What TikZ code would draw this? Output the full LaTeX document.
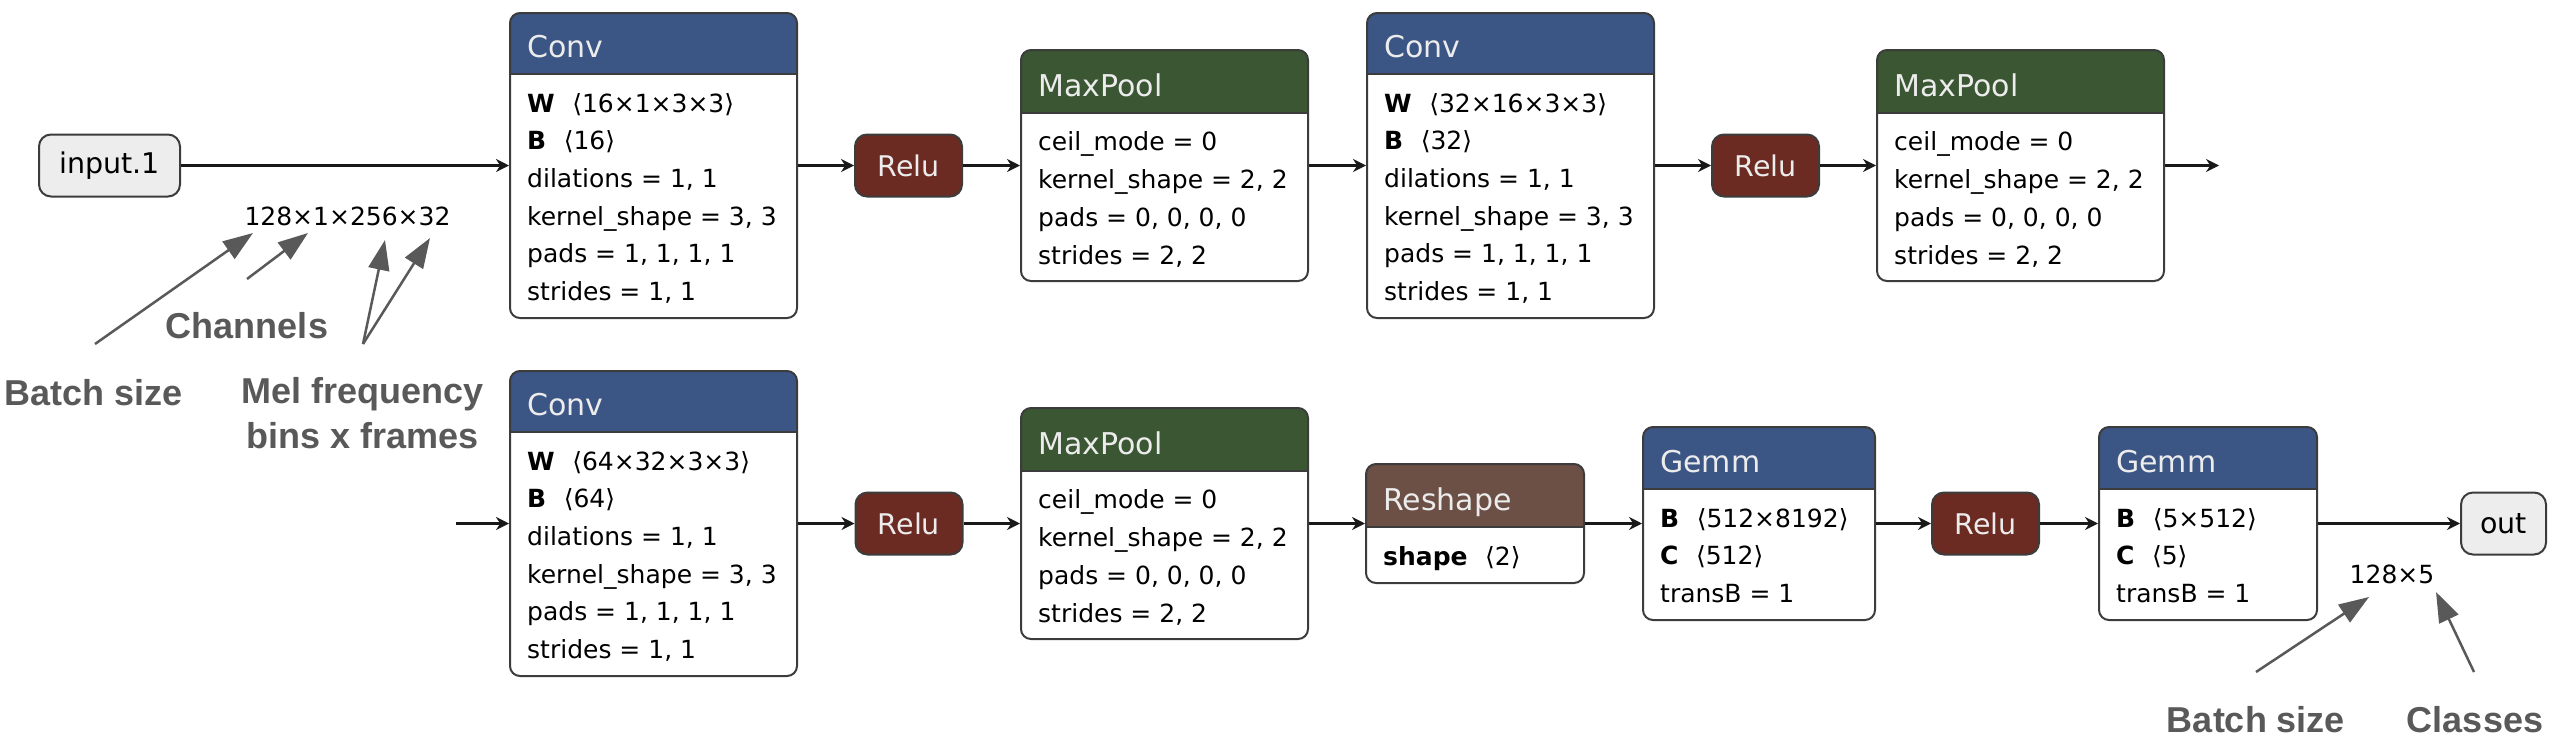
\documentclass[tikz,border=0pt]{standalone}
\usepackage{fontspec}
\setmainfont{DejaVu Sans}
\newfontfamily\notefont{Liberation Sans}
\usetikzlibrary{arrows.meta,fit}

\definecolor{convblue}{RGB}{59,85,133}
\definecolor{poolgreen}{RGB}{58,86,51}
\definecolor{relured}{RGB}{107,43,35}
\definecolor{shapebrown}{RGB}{108,79,69}
\definecolor{edgegray}{RGB}{60,60,60}
\definecolor{notegray}{RGB}{89,89,89}
\definecolor{headtext}{RGB}{236,236,236}

\begin{document}
\begin{tikzpicture}[x=1pt,y=-1pt,
  box/.style={draw=edgegray,line width=2pt,rounded corners=10pt,inner sep=0pt},
  head/.style={anchor=base west,inner sep=0pt,text=headtext,font=\fontsize{30}{36}\selectfont},
  body/.style={anchor=base west,inner sep=0pt,align=left,font=\fontsize{25}{37.7}\selectfont},
  pill/.style={draw=edgegray,line width=2pt,rounded corners=12pt,minimum height=62pt,inner sep=0pt,font=\fontsize{28.5}{34}\selectfont},
  relu/.style={pill,fill=relured,text=headtext,minimum width=107pt},
  io/.style={pill,fill=black!7},
  flow/.style={-{Stealth[length=13pt,width=13pt]},line width=2.5pt,black!90},
  dims/.style={anchor=base,inner sep=0pt,font=\fontsize{25}{30}\selectfont},
  note/.style={anchor=base,inner sep=0pt,text=notegray,align=center,font=\notefont\bfseries\fontsize{36}{45}\selectfont},
  pointer/.style={-{Triangle[length=30pt,width=21pt]},line width=2.5pt,notegray}]
\useasboundingbox (0,0) rectangle (2556,740);

% operator boxes: coloured header, white body
\foreach \nm/\xa/\ya/\xb/\yb/\hb/\col/\title in {
  conv1/510/13/797/318/74/convblue/Conv, pool1/1021/50/1308/281/113/poolgreen/MaxPool,
  conv2/1367/13/1654/318/74/convblue/Conv, pool2/1877/50/2164/281/113/poolgreen/MaxPool,
  conv3/510/371/797/676/432/convblue/Conv, pool3/1021/408/1308/639/471/poolgreen/MaxPool,
  shape1/1366/464/1584/583/527/shapebrown/Reshape, gemm1/1643/427/1875/620/489/convblue/Gemm,
  gemm2/2099/427/2317/620/489/convblue/Gemm}{
  \begin{scope}
    \clip[rounded corners=10pt] (\xa,\ya) rectangle (\xb,\yb);
    \fill[fill=\col] (\xa,\ya) rectangle (\xb,\hb);
  \end{scope}
  \draw[edgegray,line width=1.5pt] (\xa,\hb) -- (\xb,\hb);
  \node[box,fit={(\xa,\ya) (\xb,\yb)}] (\nm) {};
  \node[head] (\nm-t) at (\xa+17,\hb-17) {\title};
}

% attribute lists (placed by the baseline of their last line)
\node[body] (conv1-b) at (527,300.5) {\textbf{W}\hspace{0.7em}⟨16×1×3×3⟩\\\textbf{B}\hspace{0.7em}⟨16⟩\\dilations = 1, 1\\kernel\_shape = 3, 3\\pads = 1, 1, 1, 1\\strides = 1, 1};
\node[body] (pool1-b) at (1038,264) {ceil\_mode = 0\\kernel\_shape = 2, 2\\pads = 0, 0, 0, 0\\strides = 2, 2};
\node[body] (conv2-b) at (1384,300.5) {\textbf{W}\hspace{0.7em}⟨32×16×3×3⟩\\\textbf{B}\hspace{0.7em}⟨32⟩\\dilations = 1, 1\\kernel\_shape = 3, 3\\pads = 1, 1, 1, 1\\strides = 1, 1};
\node[body] (pool2-b) at (1894,264) {ceil\_mode = 0\\kernel\_shape = 2, 2\\pads = 0, 0, 0, 0\\strides = 2, 2};
\node[body] (conv3-b) at (527,658.5) {\textbf{W}\hspace{0.7em}⟨64×32×3×3⟩\\\textbf{B}\hspace{0.7em}⟨64⟩\\dilations = 1, 1\\kernel\_shape = 3, 3\\pads = 1, 1, 1, 1\\strides = 1, 1};
\node[body] (pool3-b) at (1038,622) {ceil\_mode = 0\\kernel\_shape = 2, 2\\pads = 0, 0, 0, 0\\strides = 2, 2};
\node[body] (shape1-b) at (1383,565) {\textbf{shape}\hspace{0.7em}⟨2⟩};
\node[body] (gemm1-b) at (1660,602.4) {\textbf{B}\hspace{0.7em}⟨512×8192⟩\\\textbf{C}\hspace{0.7em}⟨512⟩\\transB = 1};
\node[body] (gemm2-b) at (2116,602.4) {\textbf{B}\hspace{0.7em}⟨5×512⟩\\\textbf{C}\hspace{0.7em}⟨5⟩\\transB = 1};

\node[io,minimum width=141pt] (in) at (109.5,165.5) {input.1};
\node[relu] (relu1) at (908.5,165.5) {Relu};
\node[relu] (relu2) at (1765.5,165.5) {Relu};
\node[relu] (relu3) at (909,523.5) {Relu};
\node[relu] (relu4) at (1985.5,523.5) {Relu};
\node[io,minimum width=85pt] (out) at (2503.5,523.5) {out};

% edges
\coordinate (end1) at (2219,165.5);
\coordinate (start2) at (456,523.5);
\draw[flow] (in) -- (conv1);
\draw[flow] (conv1) -- (relu1);
\draw[flow] (relu1) -- (pool1);
\draw[flow] (pool1) -- (conv2);
\draw[flow] (conv2) -- (relu2);
\draw[flow] (relu2) -- (pool2);
\draw[flow] (pool2) -- (end1);
\draw[flow] (start2) -- (conv3);
\draw[flow] (conv3) -- (relu3);
\draw[flow] (relu3) -- (pool3);
\draw[flow] (pool3) -- (shape1);
\draw[flow] (shape1) -- (gemm1);
\draw[flow] (gemm1) -- (relu4);
\draw[flow] (relu4) -- (gemm2);
\draw[flow] (gemm2) -- (out);

% tensor shapes and notes
\node[dims] (dims1) at (347.5,225) {128×1×256×32};
\node[dims] (dims2) at (2392,583) {128×5};
\node[note] (batch1) at (94,405) {Batch size};
\node[note] (chan) at (247,338) {Channels};
\node[note] (mel) at (363,448) {Mel frequency\\bins x frames};
\node[note] (batch2) at (2256,732) {Batch size};
\node[note] (classes) at (2475,732) {Classes};

\coordinate (p1a) at (95,344);   \coordinate (p1b) at (253,233);
\coordinate (p2a) at (247,279);  \coordinate (p2b) at (308,233);
\coordinate (p3a) at (363,344);  \coordinate (p3b) at (385,240);
\coordinate (p4b) at (430,238);
\coordinate (p5a) at (2256,672); \coordinate (p5b) at (2369,597);
\coordinate (p6a) at (2474,672); \coordinate (p6b) at (2436,592);
\draw[pointer] (p1a) -- (p1b);
\draw[pointer] (p2a) -- (p2b);
\draw[pointer] (p3a) -- (p3b);
\draw[pointer] (p3a) -- (p4b);
\draw[pointer] (p5a) -- (p5b);
\draw[pointer] (p6a) -- (p6b);
\end{tikzpicture}
\end{document}
